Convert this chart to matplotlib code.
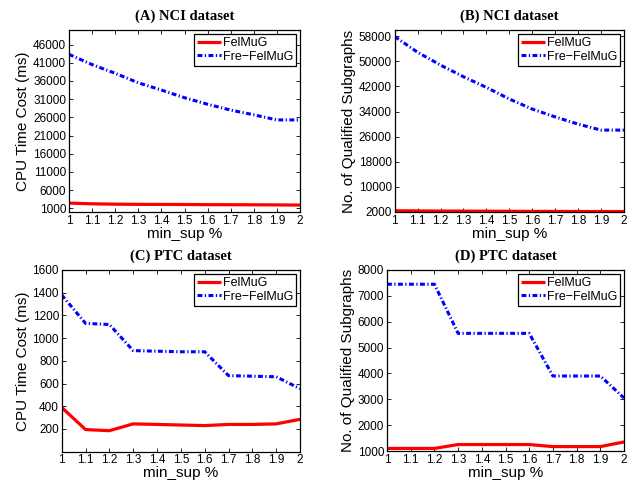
import numpy as np
import matplotlib
matplotlib.use("Agg")
import matplotlib.pyplot as plt

min_sup = [1.0, 1.1, 1.2, 1.3, 1.4, 1.5, 1.6, 1.7, 1.8, 1.9, 2.0]
x_tick_labels = ["1", "1.1", "1.2", "1.3", "1.4", "1.5", "1.6", "1.7", "1.8", "1.9", "2"]

# (A) NCI CPU time (ms)
nci_time_felmug = [2450, 2250, 2150, 2100, 2080, 2060, 2020, 2000, 1980, 1950, 1900]
nci_time_fre = [43300, 40500, 38100, 35500, 33500, 31400, 29600, 28000, 26700, 25300, 25300]
# (B) NCI number of qualified subgraphs
nci_num_felmug = [2400, 2350, 2300, 2280, 2250, 2220, 2200, 2180, 2160, 2150, 2150]
nci_num_fre = [57900, 52900, 48800, 45100, 41700, 38000, 34800, 32300, 30000, 28100, 28100]
# (C) PTC CPU time (ms)
ptc_time_felmug = [390, 195, 185, 245, 240, 235, 230, 240, 240, 245, 285]
ptc_time_fre = [1380, 1130, 1120, 890, 885, 880, 880, 670, 665, 660, 555]
# (D) PTC number of qualified subgraphs
ptc_num_felmug = [1100, 1100, 1100, 1250, 1250, 1250, 1250, 1170, 1170, 1170, 1350]
ptc_num_fre = [7450, 7450, 7450, 5550, 5550, 5550, 5550, 3900, 3900, 3900, 3050]

titles = ["(A) NCI dataset", "(B) NCI dataset", "(C) PTC dataset", "(D) PTC dataset"]
ylabels = ["CPU Time Cost (ms)", "No. of Qualified Subgraphs",
           "CPU Time Cost (ms)", "No. of Qualified Subgraphs"]
series_names = ["FelMuG", "Fre\u2212FelMuG"]

panels = [
    (nci_time_felmug, nci_time_fre, (0, 50000), np.arange(1000, 46001, 5000)),
    (nci_num_felmug, nci_num_fre, (2000, 60000), np.arange(2000, 58001, 8000)),
    (ptc_time_felmug, ptc_time_fre, (0, 1600), np.arange(200, 1601, 200)),
    (ptc_num_felmug, ptc_num_fre, (1000, 8000), np.arange(1000, 8001, 1000)),
]

W, H = 634, 483
rects_px = [
    (69, 30, 300, 212),
    (394.7, 30, 624, 212),
    (61.7, 270, 300, 451.7),
    (387, 270, 624, 451),
]

fig = plt.figure(figsize=(W / 100, H / 100), dpi=100)
sans = "Liberation Sans"
serif = "Liberation Serif"

for i, (felmug, fre, ylim, yticks) in enumerate(panels):
    l, t, r, b = rects_px[i]
    ax = fig.add_axes([l / W, 1 - b / H, (r - l) / W, (b - t) / H])
    ax.plot(min_sup, felmug, color=(1, 0, 0), lw=2.3, solid_capstyle="butt",
            label=series_names[0])
    ax.plot(min_sup, fre, color=(0, 0, 1), lw=2.2, linestyle=(0, (1.6, 0.8, 0.4, 0.8)),
            label=series_names[1])
    ax.set_xlim(1, 2)
    ax.set_ylim(*ylim)
    ax.set_xticks(min_sup)
    ax.set_xticklabels(x_tick_labels, fontfamily=sans, fontsize=8.5)
    ax.set_yticks(yticks)
    ax.set_yticklabels([str(v) for v in yticks], fontfamily=sans, fontsize=8.5)
    ax.tick_params(direction="in", top=True, right=True, length=3, width=0.6, pad=2)
    for s in ax.spines.values():
        s.set_linewidth(0.9)
    ax.set_xlabel("min_sup %", fontfamily=sans, fontsize=11, labelpad=0)
    ax.set_ylabel(ylabels[i], fontfamily=sans, fontsize=11, labelpad=2)
    ax.set_title(titles[i], fontfamily=serif, fontweight="bold", fontsize=10.5, pad=7)
    leg = ax.legend(loc="upper right", prop={"family": sans, "size": 9},
                    fancybox=False, framealpha=1, edgecolor="black",
                    borderpad=0.25, labelspacing=0.15, handlelength=1.9,
                    handletextpad=0.15, borderaxespad=0.3)
    leg.get_frame().set_linewidth(0.9)

fig.savefig("out.png", dpi=100)
